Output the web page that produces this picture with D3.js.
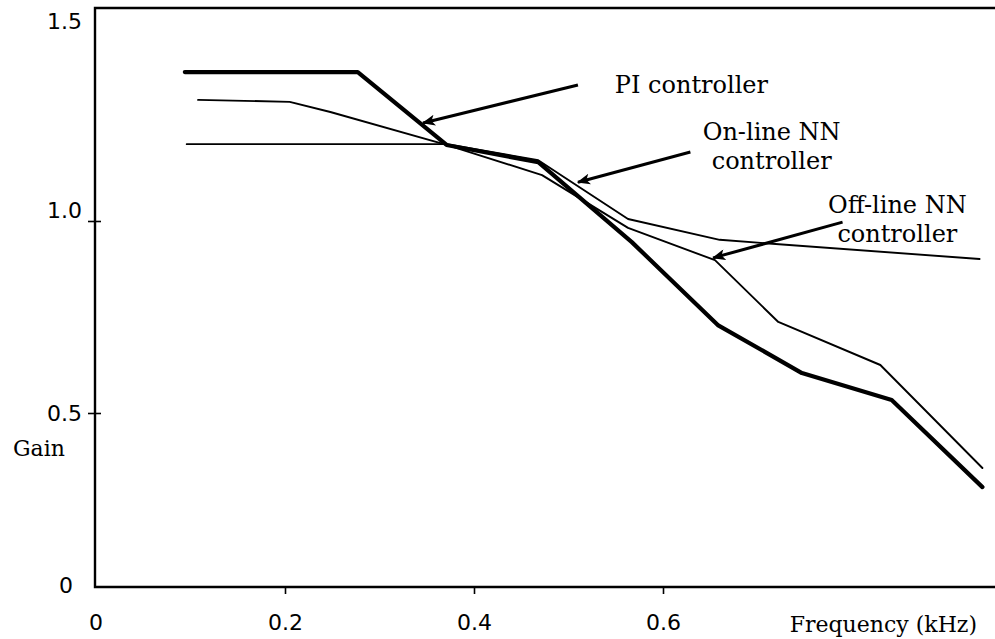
<!DOCTYPE html>
<html>
<head>
<meta charset="utf-8">
<script src="https://cdn.jsdelivr.net/npm/d3@7"></script>
<style>
  html, body { margin: 0; padding: 0; background: #fff; }
  svg { display: block; }
</style>
</head>
<body>
<svg id="chart" width="995" height="639"></svg>
<script>
// Gain versus frequency for three speed controllers
const xTickValues = [0.2, 0.4, 0.6];
const yTickValues = [0.5, 1.0];
const yTickLabels = ["0.5", "1.0"];

const piFreq = [0.094, 0.277, 0.371, 0.468, 0.567, 0.658, 0.747, 0.842, 0.938];
const piGain = [1.380, 1.380, 1.194, 1.150, 0.945, 0.729, 0.604, 0.534, 0.287];

const onlineFreq = [0.096, 0.371, 0.468, 0.563, 0.660, 0.935];
const onlineGain = [1.196, 1.196, 1.155, 1.005, 0.951, 0.901];

const offlineFreq = [0.108, 0.205, 0.248, 0.371, 0.472, 0.563, 0.655, 0.722, 0.830, 0.938];
const offlineGain = [1.309, 1.304, 1.278, 1.194, 1.117, 0.982, 0.898, 0.737, 0.625, 0.342];

// Callout labels: text lines, text anchor point, arrow tail and arrow head (data units)
const calloutText = [["PI controller"], ["On-line NN", "controller"], ["Off-line NN", "controller"]];
const calloutAnchor = [[0.549, 1.327, "start"], [0.715, 1.207, "middle"], [0.848, 1.021, "middle"]];
const arrowTail = [[0.510, 1.347], [0.629, 1.176], [0.790, 0.997]];
const arrowHead = [[0.346, 1.250], [0.510, 1.099], [0.653, 0.904]];

const svg = d3.select("#chart");
const plotLeft = 95, plotRight = 995, plotTop = 8, plotBottom = 587;

const x = d3.scaleLinear().domain([0, 0.2]).range([96, 285]);
// the printed gain axis is not evenly spaced, so the scale is piecewise
const y = d3.scaleLinear().domain([0, 0.5, 1.0, 1.5]).range([plotBottom, 413, 221, 25]);

const serif = "'DejaVu Serif', 'Liberation Serif', serif";
const sans = "'DejaVu Sans', sans-serif";

// frame: top, left and bottom edges
svg.append("path")
  .attr("d", `M${plotRight},${plotTop}H${plotLeft}V${plotBottom}H${plotRight}`)
  .attr("fill", "none").attr("stroke", "#000").attr("stroke-width", 2.4);

// x axis ticks
const xAxis = d3.axisBottom(x).tickValues(xTickValues).tickSize(7).tickFormat(d3.format(".1f"));
const gx = svg.append("g").attr("transform", `translate(0,${plotBottom})`).call(xAxis);
gx.select(".domain").remove();
gx.selectAll(".tick line").attr("stroke", "#000").attr("stroke-width", 1.6);
gx.selectAll(".tick text").attr("y", 0).attr("dy", 43)
  .attr("font-family", sans).attr("font-size", 22).attr("fill", "#000");

// y axis ticks (small crosses)
const yAxis = d3.axisLeft(y).tickValues(yTickValues).tickSize(7)
  .tickFormat((d, i) => yTickLabels[i]);
const gy = svg.append("g").attr("transform", `translate(${plotLeft},0)`).call(yAxis);
gy.select(".domain").remove();
gy.selectAll(".tick line").attr("x1", 6).attr("x2", -7).attr("stroke", "#000").attr("stroke-width", 1.6);
gy.selectAll(".tick text").attr("x", -13).attr("dy", "0.32em")
  .attr("font-family", sans).attr("font-size", 22).attr("fill", "#000");
gy.selectAll(".tick").filter(d => d === 1.0).select("text").attr("dy", "-0.15em");

// origin and top labels
svg.append("text").attr("x", x(0)).attr("y", plotBottom + 43).attr("text-anchor", "middle")
  .attr("font-family", sans).attr("font-size", 22).text("0");
svg.append("text").attr("x", plotLeft - 22).attr("y", y(0)).attr("dy", "0.28em").attr("text-anchor", "end")
  .attr("font-family", sans).attr("font-size", 22).text("0");
svg.append("text").attr("x", plotLeft - 13).attr("y", y(1.5)).attr("dy", "0.2em").attr("text-anchor", "end")
  .attr("font-family", sans).attr("font-size", 22).text("1.5");

// axis titles
svg.append("text").attr("x", 13).attr("y", 456)
  .attr("font-family", serif).attr("font-size", 22).text("Gain");
svg.append("text").attr("x", 977).attr("y", 632).attr("text-anchor", "end")
  .attr("font-family", serif).attr("font-size", 22).text("Frequency (kHz)");

// curves
const line = d3.line().x(d => x(d[0])).y(d => y(d[1]));
const series = [
  { f: onlineFreq, g: onlineGain, w: 1.9 },
  { f: offlineFreq, g: offlineGain, w: 1.9 },
  { f: piFreq, g: piGain, w: 4.2 }
];
series.forEach(s => {
  svg.append("path")
    .datum(s.f.map((f, i) => [f, s.g[i]]))
    .attr("d", line)
    .attr("fill", "none").attr("stroke", "#000")
    .attr("stroke-width", s.w).attr("stroke-linejoin", "round").attr("stroke-linecap", "round");
});

// callout arrows
svg.append("defs").append("marker")
  .attr("id", "head").attr("viewBox", "0 0 12 10").attr("refX", 11).attr("refY", 5)
  .attr("markerUnits", "userSpaceOnUse").attr("markerWidth", 14).attr("markerHeight", 11)
  .attr("orient", "auto")
  .append("path").attr("d", "M0,0L12,5L0,10L3,5Z").attr("fill", "#000");

arrowTail.forEach((t, i) => {
  const h = arrowHead[i];
  svg.append("line")
    .attr("x1", x(t[0])).attr("y1", y(t[1]))
    .attr("x2", x(h[0])).attr("y2", y(h[1]))
    .attr("stroke", "#000").attr("stroke-width", 3).attr("marker-end", "url(#head)");
});

// callout texts
calloutText.forEach((lines, i) => {
  const a = calloutAnchor[i];
  const t = svg.append("text")
    .attr("x", x(a[0])).attr("y", y(a[1])).attr("text-anchor", a[2])
    .attr("font-family", serif).attr("font-size", 24).attr("fill", "#000");
  lines.forEach((s, j) => {
    t.append("tspan").attr("x", x(a[0])).attr("dy", j === 0 ? 0 : 29).text(s);
  });
});
</script>
</body>
</html>
